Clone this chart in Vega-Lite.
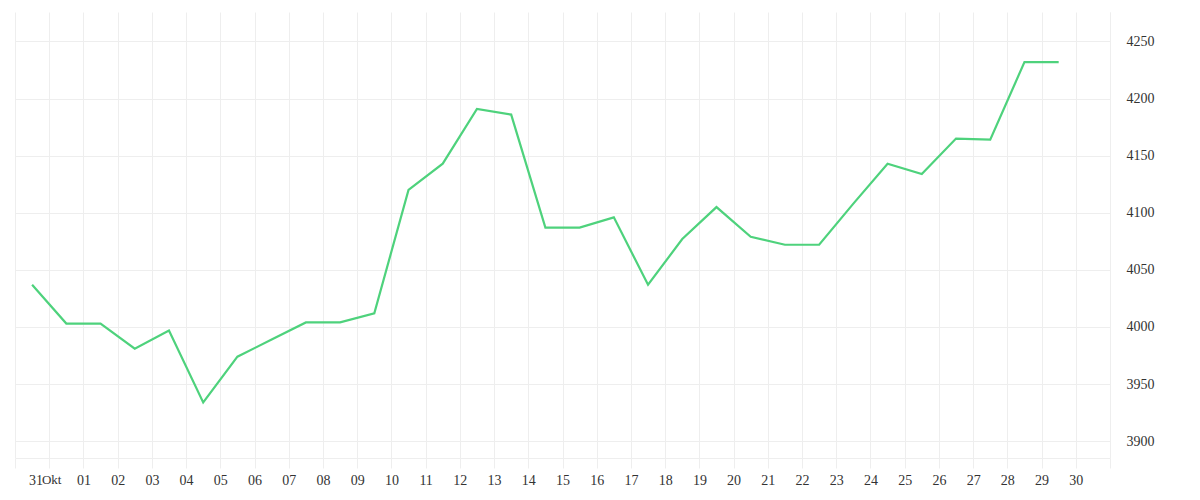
{
  "$schema": "https://vega.github.io/schema/vega-lite/v6.json",
  "width": 1095,
  "height": 446,
  "autosize": {"type": "none"},
  "padding": {"left": 15, "top": 12, "right": 90, "bottom": 42},
  "background": "#ffffff",
  "config": {"view": {"stroke": null}},
  "data": {
    "values": [
      {"day": 0.5, "value": 4037},
      {"day": 1.5, "value": 4003},
      {"day": 2.5, "value": 4003},
      {"day": 3.5, "value": 3981},
      {"day": 4.5, "value": 3997},
      {"day": 5.5, "value": 3934},
      {"day": 6.5, "value": 3974},
      {"day": 7.5, "value": 3989},
      {"day": 8.5, "value": 4004},
      {"day": 9.5, "value": 4004},
      {"day": 10.5, "value": 4012},
      {"day": 11.5, "value": 4120},
      {"day": 12.5, "value": 4143},
      {"day": 13.5, "value": 4191},
      {"day": 14.5, "value": 4186},
      {"day": 15.5, "value": 4087},
      {"day": 16.5, "value": 4087},
      {"day": 17.5, "value": 4096},
      {"day": 18.5, "value": 4037},
      {"day": 19.5, "value": 4077},
      {"day": 20.5, "value": 4105},
      {"day": 21.5, "value": 4079},
      {"day": 22.5, "value": 4072},
      {"day": 23.5, "value": 4072},
      {"day": 24.5, "value": 4108},
      {"day": 25.5, "value": 4143},
      {"day": 26.5, "value": 4134},
      {"day": 27.5, "value": 4165},
      {"day": 28.5, "value": 4164},
      {"day": 29.5, "value": 4232},
      {"day": 30.5, "value": 4232}
    ]
  },
  "mark": {"type": "line", "color": "#4ed27c", "strokeWidth": 2.2},
  "encoding": {
    "x": {
      "field": "day",
      "type": "quantitative",
      "scale": {"domain": [0, 32], "nice": false, "zero": false},
      "axis": {
        "title": null,
        "values": [0, 0.6, 1, 2, 3, 4, 5, 6, 7, 8, 9, 10, 11, 12, 13, 14, 15, 16, 17, 18, 19, 20, 21, 22, 23, 24, 25, 26, 27, 28, 29, 30, 31, 32],
        "labelExpr": "datum.value > 0.5 && datum.value < 0.9 ? '31' : (datum.value == 1 ? 'Okt' : ((datum.value >= 2 && datum.value <= 31) ? ((datum.value - 1) < 10 ? '0' + (datum.value - 1) : '' + (datum.value - 1)) : ''))",
        "labelOverlap": false,
        "labelFlush": false,
        "labelFont": "Liberation Serif",
        "labelFontSize": {"condition": {"test": "datum.value == 1", "value": 13}, "value": 14},
        "labelOffset": {"condition": {"test": "datum.value == 1", "value": 2}, "value": 0},
        "labelColor": "#333333",
        "labelPadding": 5,
        "grid": true,
        "gridColor": "#eeeeee",
        "gridWidth": 1,
        "gridOpacity": {"condition": {"test": "datum.value > 0.5 && datum.value < 0.9", "value": 0}, "value": 1},
        "ticks": true,
        "tickSize": 10,
        "tickColor": "#eeeeee",
        "tickOpacity": {"condition": {"test": "datum.value > 0.5 && datum.value < 0.9", "value": 0}, "value": 1},
        "domain": true,
        "domainColor": "#eeeeee"
      }
    },
    "y": {
      "field": "value",
      "type": "quantitative",
      "scale": {"domain": [3885.3, 4275.8], "nice": false, "zero": false},
      "axis": {
        "orient": "right",
        "title": null,
        "format": "d",
        "values": [3900, 3950, 4000, 4050, 4100, 4150, 4200, 4250],
        "labelFont": "Liberation Serif",
        "labelFontSize": 14,
        "labelColor": "#333333",
        "labelPadding": 16,
        "ticks": false,
        "grid": true,
        "gridColor": "#eeeeee",
        "domain": true,
        "domainColor": "#eeeeee"
      }
    }
  }
}
